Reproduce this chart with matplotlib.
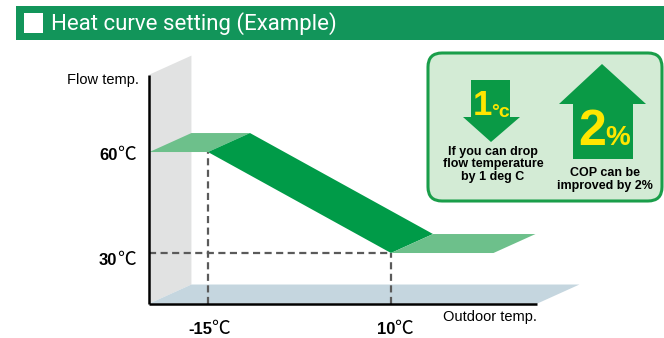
import matplotlib
matplotlib.use("Agg")
import matplotlib.pyplot as plt
from matplotlib.patches import Polygon, Rectangle, FancyBboxPatch

plt.rcParams['font.family'] = ['Liberation Sans', 'DejaVu Sans']

# --------- data ---------
outdoor_temp = [-23, -15, 10, 24]      # heat curve break points
flow_temp = [60, 60, 30, 30]
ref_outdoor = [-15, 10]                # marked design points
ref_flow = [60, 30]
x_tick_labels = ["-15", "10"]
y_tick_labels = ["60", "30"]
title = "Heat curve setting (Example)"
drop_text = "If you can drop\nflow temperature\nby 1 deg C"
cop_text = "COP can be\nimproved by 2%"

# --------- colours ---------
HEAD = '#12955a'
DARK = '#009b48'
LIGHT = '#6dc08b'
WALL = '#e1e2e2'
FLOOR = '#c5d6df'
BOX = '#d3ebd5'
ARROW = '#0a9a46'
YEL = '#ffe600'

W, H = 664, 338
fig = plt.figure(figsize=(W / 100, H / 100), dpi=100)

# pixel axes for the decoration
bg = fig.add_axes([0, 0, 1, 1])
bg.set_xlim(0, W); bg.set_ylim(H, 0); bg.axis('off')

# header bar
bg.add_patch(Rectangle((16, 6), W - 16, 34, color=HEAD, lw=0))
bg.add_patch(Rectangle((24, 13), 19, 20, color='white', lw=0))
bg.text(51, 24, title, color='white', fontsize=16, family=['Roboto'],
        va='center', ha='left')

# chart axes in data units (outdoor temp / flow temp)
xmin, xmax, ymin, ymax = -23, 30, 15, 83
ax = fig.add_axes([149.4 / W, (H - 303.5) / H, 388 / W, 228.9 / H])
ax.set_xlim(xmin, xmax); ax.set_ylim(ymin, ymax); ax.axis('off')
dx, dy = 5.74, 5.64   # depth of the 3d look

# back wall and floor
ax.add_patch(Polygon([(xmin, ymin), (xmin + dx, ymin + dy), (xmin + dx, ymax + dy),
                      (xmin, ymax)], color=WALL, lw=0, clip_on=False, zorder=1))
ax.add_patch(Polygon([(xmin, ymin), (xmin + dx, ymin + dy), (xmax + dx, ymin + dy),
                      (xmax, ymin)], color=FLOOR, lw=0, clip_on=False, zorder=1))

# guide lines
dash = dict(color='#5a5a5a', lw=1.6, dashes=(3.2, 2.0), zorder=2, clip_on=False)
ax.plot([ref_outdoor[0]] * 2, [ymin, ref_flow[0]], **dash)
ax.plot([xmin, ref_outdoor[1]], [ref_flow[1]] * 2, **dash)
ax.plot([ref_outdoor[1]] * 2, [ymin, ref_flow[1]], **dash)

# heat curve ribbon
for i in range(len(outdoor_temp) - 1):
    x1, x2 = outdoor_temp[i], outdoor_temp[i + 1]
    y1, y2 = flow_temp[i], flow_temp[i + 1]
    c = LIGHT if y1 == y2 else DARK
    ax.add_patch(Polygon([(x1, y1), (x2, y2), (x2 + dx, y2 + dy), (x1 + dx, y1 + dy)],
                         color=c, lw=0, clip_on=False, zorder=3))

# axes lines
ax.plot([xmin, xmin], [ymin, ymax], color='black', lw=1.8, clip_on=False, zorder=4,
        solid_capstyle='butt')
ax.plot([xmin, xmax], [ymin, ymin], color='black', lw=1.8, clip_on=False, zorder=4,
        solid_capstyle='butt')

# tick labels: bold number + celsius sign
cel = dict(family=['Noto Sans CJK JP', 'DejaVu Sans'], fontsize=13.5)
for v, lab, drop in zip(ref_flow, y_tick_labels, [8, 12]):
    ax.annotate(lab, (xmin, v), xytext=(-23, -drop * 0.72), textcoords='offset points',
                ha='right', va='baseline', fontsize=12, fontweight='bold')
    ax.annotate('℃', (xmin, v), xytext=(-23.5, -drop * 0.72), textcoords='offset points',
                ha='left', va='baseline', **cel)
for v, lab in zip(ref_outdoor, x_tick_labels):
    ax.annotate(lab, (v, ymin), xytext=(3, -22), textcoords='offset points',
                ha='right', va='baseline', fontsize=12, fontweight='bold')
    ax.annotate('℃', (v, ymin), xytext=(2.5, -22), textcoords='offset points',
                ha='left', va='baseline', **cel)

bg.text(139, 80, "Flow temp.", ha='right', va='center', fontsize=10.5)
bg.text(537, 317, "Outdoor temp.", ha='right', va='center', fontsize=10.5)

# callout box
bg.add_patch(FancyBboxPatch((428, 53), 234, 148, boxstyle='round,pad=0,rounding_size=14',
                            facecolor=BOX, edgecolor='#1a9e4a', lw=2.2))
bg.add_patch(Polygon([(471, 80), (510, 80), (510, 117), (520, 117), (491, 142),
                      (463, 117), (471, 117)], color=ARROW, lw=0))
bg.add_patch(Polygon([(573, 159), (573, 104), (559, 104), (602, 64), (646, 104),
                      (633, 104), (633, 159)], color=ARROW, lw=0))
bg.text(492, 115, "1", color=YEL, fontsize=25, fontweight='bold', ha='right', va='baseline')
bg.text(491, 117, "°c", color=YEL, fontsize=14, fontweight='bold', ha='left', va='baseline')
bg.text(606, 145, "2", color=YEL, fontsize=36, fontweight='bold', ha='right', va='baseline')
bg.text(605, 145, "%", color=YEL, fontsize=20, fontweight='bold', ha='left', va='baseline')
bg.text(493, 164.5, drop_text, fontsize=9, fontweight='bold', ha='center', va='center',
        linespacing=1.1)
bg.text(605, 179.5, cop_text, fontsize=9, fontweight='bold', ha='center', va='center',
        linespacing=1.1)

fig.savefig('out.png', dpi=100)
